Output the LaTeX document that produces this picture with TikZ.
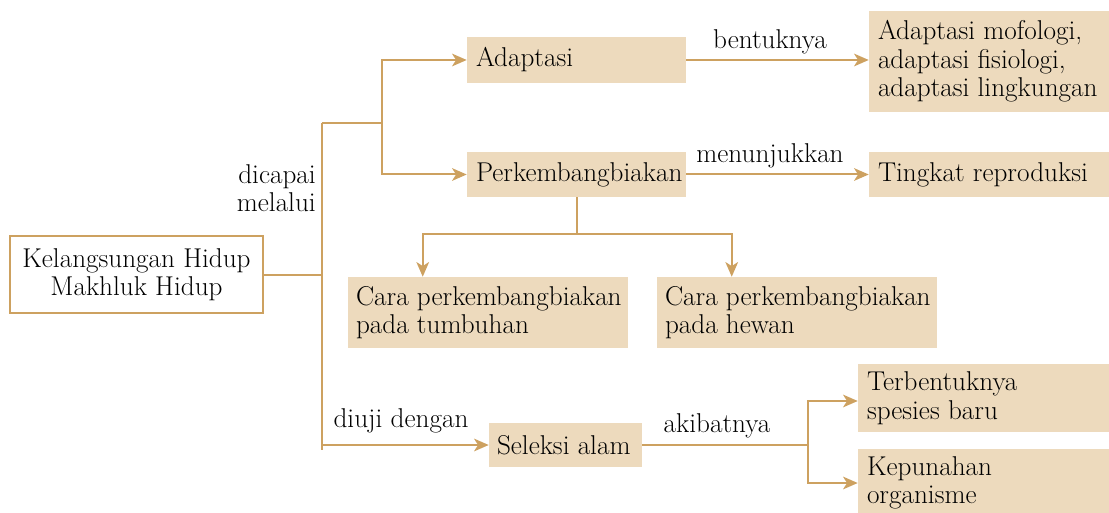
\documentclass[tikz,border=0pt]{standalone}
\usepackage{fontspec}
\usetikzlibrary{arrows.meta,fit}
\definecolor{tanline}{RGB}{205,161,96}
\definecolor{boxfill}{RGB}{237,218,189}
\begin{document}
\begin{tikzpicture}[x=0.75pt,y=-0.75pt,
  every node/.style={font=\rmfamily\fontsize{20.4}{21.4}\selectfont},
  boxf/.style={fill=boxfill, draw=none, inner sep=0pt},
  boxw/.style={fill=white, draw=tanline, line width=1.5pt, inner sep=0pt},
  txt/.style={anchor=west, align=left, inner sep=0pt},
  lbl/.style={inner sep=0pt},
  ln/.style={draw=tanline, line width=1.5pt},
  arr/.style={ln, -{Stealth[length=11pt,width=9.5pt,inset=3pt]}}]
\useasboundingbox (0,0) rectangle (1109,513);

% boxes
\node[boxw, fit={(10,236)(263,313)}] (K) {};
\node[lbl, align=center] (Kt) at (K.center) {Kelangsungan Hidup\\Makhluk Hidup};

\node[boxf, fit={(467,37)(686,83)}] (A) {};
\node[txt] (At) at ([xshift=6.75pt]A.west) {Adaptasi};

\node[boxf, fit={(869,11)(1115,112)}] (AM) {};
\node[txt] (AMt) at ([xshift=6.75pt]AM.west) {Adaptasi mofologi,\\adaptasi fisiologi,\\adaptasi lingkungan};

\node[boxf, fit={(467,152)(686,197)}] (P) {};
\node[txt] (Pt) at ([xshift=6.75pt]P.west) {Perkembangbiakan};

\node[boxf, fit={(869,152)(1115,197)}] (T) {};
\node[txt] (Tt) at ([xshift=6.75pt]T.west) {Tingkat reproduksi};

\node[boxf, fit={(348,277)(628,348)}] (C1) {};
\node[txt] (C1t) at ([xshift=6pt]C1.west) {Cara perkembangbiakan\\pada tumbuhan};

\node[boxf, fit={(657,277)(937,348)}] (C2) {};
\node[txt] (C2t) at ([xshift=6pt]C2.west) {Cara perkembangbiakan\\pada hewan};

\node[boxf, fit={(489,423)(642,467)}] (S) {};
\node[txt] (St) at ([xshift=6pt]S.west) {Seleksi alam};

\node[boxf, fit={(858,364)(1115,432)}] (TB) {};
\node[txt] (TBt) at ([xshift=6.75pt]TB.west) {Terbentuknya\\spesies baru};

\node[boxf, fit={(858,449)(1115,517)}] (KP) {};
\node[txt] (KPt) at ([xshift=6.75pt]KP.west) {Kepunahan\\organisme};

% junction coordinates
\coordinate (tr) at (322,274);
\coordinate (trtop) at (322,123);
\coordinate (trbot) at (322,450);
\coordinate (j1) at (382,123);
\coordinate (j2) at (576.5,234);
\coordinate (j3) at (808,445);

% connectors
\draw[ln] (K.east) -- (K.east -| tr);
\draw[ln] (trtop) -- (trbot);
\draw[ln] (trtop) -- (j1);
\draw[arr] (j1) |- (A.west);
\draw[arr] (j1) |- (P.west);
\draw[arr] (A.east) -- (A.east -| AM.west);
\draw[arr] (P.east) -- (P.east -| T.west);
\draw[ln] (P.south) -- (P.south |- j2);
\draw[arr] (j2) -| ([xshift=56.25pt]C1.north west);
\draw[arr] (j2) -| ([xshift=56.25pt]C2.north west);
\draw[arr] (S.west -| trtop) -- (S.west);
\draw[ln] (S.east) -- (j3);
\draw[arr] (j3) |- ([yshift=-2.25pt]TB.west);
\draw[arr] (j3) |- (KP.west);

% labels
\node[lbl] (l1) at (770,42) {bentuknya};
\node[lbl] (l2) at (770,156) {menunjukkan};
\node[lbl, align=right, anchor=east] (l3) at (316,188) {dicapai\\melalui};
\node[lbl] (l4) at (401,421) {diuji dengan};
\node[lbl] (l5) at (717,426) {akibatnya};
\end{tikzpicture}
\end{document}
